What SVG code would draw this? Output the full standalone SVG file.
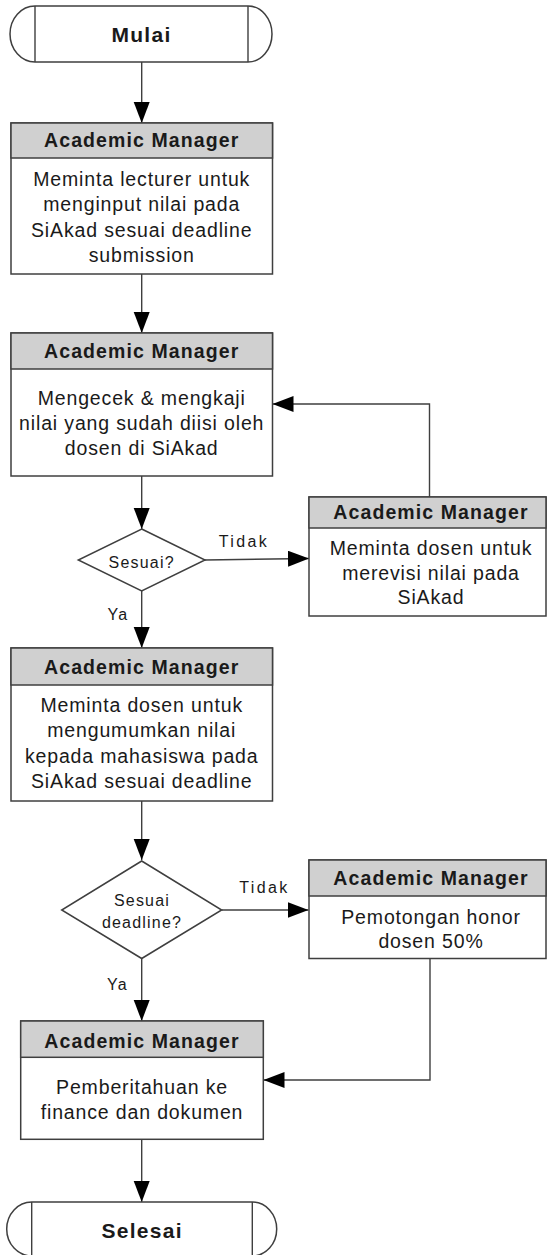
<svg xmlns="http://www.w3.org/2000/svg" width="547" height="1255" viewBox="0 0 547 1255">
<style>
.bg{fill:#ffffff}
.box{fill:#ffffff;stroke:#3f3f3f;stroke-width:1.5}
.hdr{fill:#d0d0d0;stroke:#3f3f3f;stroke-width:1.5}
.term{fill:#ffffff;stroke:#3f3f3f;stroke-width:1.5}
.ln{fill:none;stroke:#3f3f3f;stroke-width:1.4}
.t{font-family:"Liberation Sans",Arial,sans-serif;font-size:19.5px;letter-spacing:0.85px;text-anchor:middle;fill:#1a1a1a}
.h{font-weight:bold;letter-spacing:1.1px}
.tt{font-size:21px;font-weight:bold;letter-spacing:1.3px}
.lbl{font-size:16px;letter-spacing:1.2px}
.lbl2{font-size:16px;letter-spacing:2.4px}
</style>
<defs>
<marker id="ah" markerUnits="userSpaceOnUse" markerWidth="22" markerHeight="17" refX="21" refY="8" orient="auto">
<path d="M0,0 L21,8 L0,16 Z" fill="#000000"/>
</marker>
</defs>
<rect class="bg" x="0" y="0" width="547" height="1255"/>

<g id="connectors">
<path class="ln" d="M141.7,62 L141.7,123" marker-end="url(#ah)"/>
<path class="ln" d="M141.7,274 L141.7,333" marker-end="url(#ah)"/>
<path class="ln" d="M141.7,476 L141.7,529" marker-end="url(#ah)"/>
<path class="ln" d="M205,560 L309,558.5" marker-end="url(#ah)"/>
<path class="ln" d="M429.5,497 L429.5,404 L272.5,404" marker-end="url(#ah)"/>
<path class="ln" d="M141.7,591 L141.7,648" marker-end="url(#ah)"/>
<path class="ln" d="M141.7,801 L141.7,860" marker-end="url(#ah)"/>
<path class="ln" d="M221.7,910 L308.5,910" marker-end="url(#ah)"/>
<path class="ln" d="M141.7,958 L141.7,1021" marker-end="url(#ah)"/>
<path class="ln" d="M430,958 L430,1080 L263.5,1080" marker-end="url(#ah)"/>
<path class="ln" d="M141.7,1139 L141.7,1202" marker-end="url(#ah)"/>
<text class="t lbl2" x="244" y="546.5">Tidak</text>
<text class="t lbl" x="118" y="620">Ya</text>
<text class="t lbl2" x="264.5" y="893">Tidak</text>
<text class="t lbl" x="117.5" y="990">Ya</text>
</g>

<g id="mulai">
<path class="term" d="M35,6 L248,6 A24,28 0 0 1 248,62 L35,62 A25,28 0 0 1 35,6 Z"/>
<path class="ln" d="M35,6 L35,62 M248,6 L248,62"/>
<text class="t tt" x="141.5" y="42">Mulai</text>
</g>

<g id="box1">
<rect class="box" x="11" y="123" width="261.5" height="151"/>
<rect class="hdr" x="11" y="123" width="261.5" height="35"/>
<text class="t h" x="141.7" y="146.5">Academic Manager</text>
<text class="t" x="141.7" y="185.5">Meminta lecturer untuk</text>
<text class="t" x="141.7" y="211">menginput nilai pada</text>
<text class="t" x="141.7" y="236.5">SiAkad sesuai deadline</text>
<text class="t" x="141.7" y="262">submission</text>
</g>

<g id="box2">
<rect class="box" x="11" y="333" width="261.5" height="143"/>
<rect class="hdr" x="11" y="333" width="261.5" height="36"/>
<text class="t h" x="141.7" y="358">Academic Manager</text>
<text class="t" x="141.7" y="405">Mengecek &amp; mengkaji</text>
<text class="t" x="141.7" y="430">nilai yang sudah diisi oleh</text>
<text class="t" x="141.7" y="455">dosen di SiAkad</text>
</g>

<g id="decision1">
<path class="box" d="M141.7,529 L205,560 L141.7,591 L78.3,560 Z"/>
<text class="t lbl" x="141.7" y="568">Sesuai?</text>
</g>

<g id="revisi">
<rect class="box" x="309" y="497" width="237" height="119"/>
<rect class="hdr" x="309" y="497" width="237" height="31"/>
<text class="t h" x="431" y="519">Academic Manager</text>
<text class="t" x="431" y="555">Meminta dosen untuk</text>
<text class="t" x="431" y="580">merevisi nilai pada</text>
<text class="t" x="431" y="604">SiAkad</text>
</g>

<g id="box3">
<rect class="box" x="11" y="648" width="261.5" height="153"/>
<rect class="hdr" x="11" y="648" width="261.5" height="37"/>
<text class="t h" x="141.7" y="673.5">Academic Manager</text>
<text class="t" x="141.7" y="711.5">Meminta dosen untuk</text>
<text class="t" x="141.7" y="737">mengumumkan nilai</text>
<text class="t" x="141.7" y="762.5">kepada mahasiswa pada</text>
<text class="t" x="141.7" y="787.5">SiAkad sesuai deadline</text>
</g>

<g id="decision2">
<path class="box" d="M141.7,861 L221.7,910 L141.7,958.5 L61.7,910 Z"/>
<text class="t lbl" x="142" y="905.5">Sesuai</text>
<text class="t lbl" x="142" y="927.5">deadline?</text>
</g>

<g id="potong">
<rect class="box" x="309" y="860" width="237" height="98.5"/>
<rect class="hdr" x="309" y="860" width="237" height="36"/>
<text class="t h" x="431" y="885">Academic Manager</text>
<text class="t" x="431" y="923.5">Pemotongan honor</text>
<text class="t" x="431" y="947.5">dosen 50%</text>
</g>

<g id="box4">
<rect class="box" x="20.7" y="1021" width="242.6" height="118.3"/>
<rect class="hdr" x="20.7" y="1021" width="242.6" height="36.3"/>
<text class="t h" x="142" y="1047.5">Academic Manager</text>
<text class="t" x="142" y="1094">Pemberitahuan ke</text>
<text class="t" x="142" y="1119">finance dan dokumen</text>
</g>

<g id="selesai">
<path class="term" d="M31.7,1202 L252.3,1202 A24.4,27 0 0 1 252.3,1256 L31.7,1256 A25,27 0 0 1 31.7,1202 Z"/>
<path class="ln" d="M31.7,1202 L31.7,1256 M252.3,1202 L252.3,1256"/>
<text class="t tt" x="142.2" y="1238.3">Selesai</text>
</g>
</svg>
